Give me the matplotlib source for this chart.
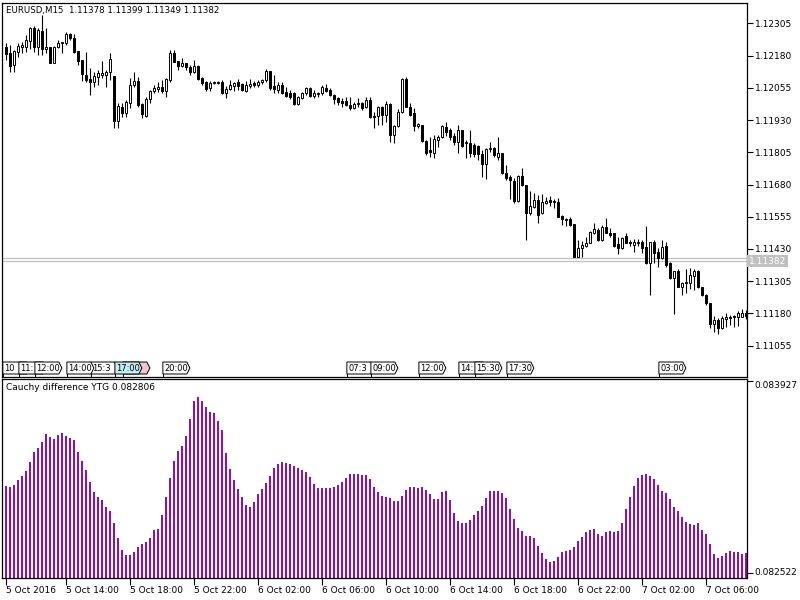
import matplotlib
matplotlib.use("Agg")
import matplotlib.pyplot as plt
from matplotlib.patches import Polygon, Rectangle
from matplotlib.transforms import blended_transform_factory

plt.rcParams['font.family'] = ['DejaVu Sans']

# 标题与报价
symbol_title = "EURUSD,M15  1.11378 1.11399 1.11349 1.11382"
indicator_title = "Cauchy difference YTG 0.082806"
bid = 1.11382
ask = 1.11394

# K线数据 (M15, 5 Oct 10:15 起)
opens = [
    1.12212, 1.12189, 1.12143, 1.12195, 1.12212, 1.12214, 1.12238, 1.12286, 1.12212, 1.12277,
    1.12204, 1.12212, 1.12152, 1.12214, 1.12227, 1.12230, 1.12262, 1.12247, 1.12198, 1.12163,
    1.12105, 1.12089, 1.12079, 1.12098, 1.12105, 1.12105, 1.12118, 1.12101, 1.11928, 1.11982,
    1.11956, 1.11997, 1.12066, 1.12083, 1.11992, 1.11947, 1.12010, 1.12044, 1.12050, 1.12057,
    1.12044, 1.12085, 1.12189, 1.12159, 1.12141, 1.12150, 1.12137, 1.12118, 1.12140, 1.12092,
    1.12079, 1.12053, 1.12079, 1.12075, 1.12079, 1.12034, 1.12049, 1.12062, 1.12076, 1.12068,
    1.12044, 1.12062, 1.12072, 1.12066, 1.12076, 1.12085, 1.12120, 1.12062, 1.12046, 1.12066,
    1.12040, 1.12034, 1.12034, 1.11991, 1.12014, 1.12034, 1.12053, 1.12023, 1.12031, 1.12034,
    1.12053, 1.12046, 1.12027, 1.12014, 1.12005, 1.12005, 1.11988, 1.11975, 1.11997, 1.11995,
    1.11979, 1.12008, 1.11943, 1.11946, 1.11979, 1.11950, 1.11992, 1.11872, 1.11907, 1.11962,
    1.12088, 1.11982, 1.11956, 1.11907, 1.11911, 1.11850, 1.11814, 1.11803, 1.11853, 1.11863,
    1.11904, 1.11891, 1.11868, 1.11846, 1.11891, 1.11840, 1.11842, 1.11833, 1.11829, 1.11798,
    1.11760, 1.11816, 1.11820, 1.11788, 1.11801, 1.11723, 1.11710, 1.11695, 1.11617, 1.11713,
    1.11678, 1.11568, 1.11594, 1.11620, 1.11568, 1.11607, 1.11620, 1.11612, 1.11614, 1.11558,
    1.11542, 1.11545, 1.11527, 1.11400, 1.11433, 1.11442, 1.11455, 1.11493, 1.11504, 1.11465,
    1.11517, 1.11491, 1.11491, 1.11449, 1.11433, 1.11480, 1.11458, 1.11446, 1.11455, 1.11458,
    1.11436, 1.11374, 1.11458, 1.11420, 1.11394, 1.11442, 1.11374, 1.11316, 1.11346, 1.11284,
    1.11297, 1.11299, 1.11325, 1.11346, 1.11281, 1.11252, 1.11219, 1.11139, 1.11155, 1.11122,
    1.11157, 1.11161, 1.11165, 1.11168, 1.11168, 1.11181,
]
highs = [
    1.12227, 1.12221, 1.12202, 1.12227, 1.12234, 1.12260, 1.12292, 1.12295, 1.12286, 1.12337,
    1.12286, 1.12214, 1.12217, 1.12240, 1.12234, 1.12273, 1.12266, 1.12262, 1.12198, 1.12163,
    1.12195, 1.12130, 1.12118, 1.12124, 1.12160, 1.12124, 1.12191, 1.12101, 1.11995, 1.11997,
    1.12008, 1.12092, 1.12118, 1.12098, 1.11995, 1.12018, 1.12046, 1.12066, 1.12079, 1.12085,
    1.12092, 1.12202, 1.12202, 1.12160, 1.12169, 1.12152, 1.12143, 1.12163, 1.12143, 1.12098,
    1.12083, 1.12081, 1.12083, 1.12083, 1.12085, 1.12062, 1.12085, 1.12079, 1.12088, 1.12075,
    1.12083, 1.12088, 1.12083, 1.12085, 1.12088, 1.12127, 1.12120, 1.12105, 1.12079, 1.12079,
    1.12057, 1.12046, 1.12040, 1.12023, 1.12040, 1.12057, 1.12057, 1.12046, 1.12040, 1.12066,
    1.12070, 1.12053, 1.12031, 1.12021, 1.12014, 1.12018, 1.12018, 1.12001, 1.12014, 1.12001,
    1.12018, 1.12021, 1.11962, 1.11984, 1.11984, 1.12005, 1.11997, 1.11911, 1.11971, 1.12092,
    1.12098, 1.11995, 1.11975, 1.11920, 1.11911, 1.11853, 1.11863, 1.11872, 1.11872, 1.11911,
    1.11924, 1.11898, 1.11878, 1.11911, 1.11891, 1.11853, 1.11891, 1.11840, 1.11833, 1.11814,
    1.11820, 1.11846, 1.11824, 1.11863, 1.11801, 1.11756, 1.11717, 1.11704, 1.11717, 1.11743,
    1.11678, 1.11656, 1.11648, 1.11639, 1.11643, 1.11633, 1.11635, 1.11623, 1.11626, 1.11562,
    1.11549, 1.11553, 1.11527, 1.11465, 1.11462, 1.11478, 1.11501, 1.11530, 1.11510, 1.11523,
    1.11549, 1.11510, 1.11493, 1.11478, 1.11478, 1.11493, 1.11465, 1.11467, 1.11467, 1.11465,
    1.11519, 1.11458, 1.11465, 1.11433, 1.11465, 1.11458, 1.11381, 1.11346, 1.11351, 1.11303,
    1.11351, 1.11355, 1.11351, 1.11349, 1.11284, 1.11256, 1.11222, 1.11170, 1.11161, 1.11170,
    1.11181, 1.11174, 1.11174, 1.11191, 1.11196, 1.11194,
]
lows = [
    1.12163, 1.12118, 1.12118, 1.12176, 1.12191, 1.12195, 1.12204, 1.12195, 1.12182, 1.12182,
    1.12189, 1.12152, 1.12152, 1.12208, 1.12189, 1.12221, 1.12240, 1.12191, 1.12143, 1.12083,
    1.12079, 1.12027, 1.12059, 1.12066, 1.12092, 1.12057, 1.12085, 1.11898, 1.11898, 1.11941,
    1.11941, 1.11975, 1.12057, 1.11982, 1.11937, 1.11943, 1.11997, 1.12034, 1.12040, 1.12036,
    1.12021, 1.12079, 1.12154, 1.12124, 1.12137, 1.12124, 1.12105, 1.12111, 1.12085, 1.12066,
    1.12043, 1.12043, 1.12070, 1.12070, 1.12031, 1.12014, 1.12046, 1.12044, 1.12046, 1.12043,
    1.12040, 1.12056, 1.12057, 1.12059, 1.12070, 1.12079, 1.12046, 1.12034, 1.12036, 1.12031,
    1.12021, 1.12010, 1.11988, 1.11988, 1.12010, 1.12027, 1.12021, 1.12014, 1.12018, 1.12027,
    1.12040, 1.12023, 1.11992, 1.11988, 1.11982, 1.11984, 1.11969, 1.11972, 1.11982, 1.11969,
    1.11975, 1.11937, 1.11898, 1.11911, 1.11911, 1.11924, 1.11846, 1.11842, 1.11904, 1.11956,
    1.11979, 1.11946, 1.11889, 1.11898, 1.11846, 1.11794, 1.11788, 1.11782, 1.11824, 1.11859,
    1.11868, 1.11853, 1.11833, 1.11801, 1.11824, 1.11782, 1.11788, 1.11788, 1.11775, 1.11708,
    1.11700, 1.11807, 1.11785, 1.11775, 1.11721, 1.11698, 1.11623, 1.11607, 1.11614, 1.11674,
    1.11465, 1.11562, 1.11588, 1.11530, 1.11566, 1.11604, 1.11597, 1.11588, 1.11553, 1.11523,
    1.11520, 1.11519, 1.11398, 1.11398, 1.11398, 1.11439, 1.11452, 1.11488, 1.11462, 1.11462,
    1.11491, 1.11478, 1.11436, 1.11411, 1.11429, 1.11452, 1.11442, 1.11420, 1.11442, 1.11413,
    1.11372, 1.11252, 1.11374, 1.11359, 1.11390, 1.11362, 1.11312, 1.11178, 1.11281, 1.11252,
    1.11261, 1.11274, 1.11271, 1.11278, 1.11248, 1.11213, 1.11122, 1.11110, 1.11100, 1.11119,
    1.11129, 1.11135, 1.11129, 1.11131, 1.11165, 1.11157,
]
closes = [
    1.12185, 1.12140, 1.12199, 1.12217, 1.12220, 1.12240, 1.12286, 1.12212, 1.12279, 1.12204,
    1.12214, 1.12152, 1.12214, 1.12227, 1.12231, 1.12264, 1.12247, 1.12195, 1.12160, 1.12107,
    1.12085, 1.12079, 1.12101, 1.12114, 1.12114, 1.12116, 1.12165, 1.11928, 1.11984, 1.11956,
    1.12001, 1.12066, 1.12083, 1.11988, 1.11953, 1.12010, 1.12044, 1.12053, 1.12057, 1.12044,
    1.12088, 1.12189, 1.12156, 1.12141, 1.12152, 1.12134, 1.12118, 1.12140, 1.12088, 1.12075,
    1.12049, 1.12075, 1.12075, 1.12079, 1.12034, 1.12052, 1.12065, 1.12075, 1.12062, 1.12046,
    1.12066, 1.12070, 1.12066, 1.12076, 1.12085, 1.12120, 1.12053, 1.12049, 1.12066, 1.12036,
    1.12023, 1.12021, 1.11992, 1.12018, 1.12034, 1.12053, 1.12023, 1.12036, 1.12036, 1.12059,
    1.12044, 1.12027, 1.12010, 1.12001, 1.11997, 1.11988, 1.11975, 1.11992, 1.11991, 1.11975,
    1.12008, 1.11943, 1.11946, 1.11979, 1.11950, 1.11992, 1.11872, 1.11907, 1.11962, 1.12088,
    1.11982, 1.11950, 1.11907, 1.11915, 1.11850, 1.11803, 1.11807, 1.11855, 1.11863, 1.11907,
    1.11885, 1.11866, 1.11846, 1.11891, 1.11829, 1.11846, 1.11801, 1.11798, 1.11798, 1.11760,
    1.11816, 1.11820, 1.11794, 1.11801, 1.11723, 1.11704, 1.11698, 1.11617, 1.11713, 1.11678,
    1.11568, 1.11598, 1.11620, 1.11562, 1.11614, 1.11616, 1.11614, 1.11616, 1.11555, 1.11545,
    1.11545, 1.11523, 1.11400, 1.11433, 1.11446, 1.11455, 1.11497, 1.11506, 1.11465, 1.11517,
    1.11493, 1.11484, 1.11442, 1.11433, 1.11471, 1.11455, 1.11452, 1.11458, 1.11458, 1.11433,
    1.11374, 1.11458, 1.11416, 1.11394, 1.11439, 1.11368, 1.11316, 1.11346, 1.11284, 1.11299,
    1.11303, 1.11329, 1.11346, 1.11281, 1.11252, 1.11219, 1.11139, 1.11155, 1.11122, 1.11161,
    1.11165, 1.11168, 1.11170, 1.11183, 1.11183, 1.11170,
]

# 指标数据 Cauchy difference YTG
cauchy = [
    0.083159, 0.083154, 0.083166, 0.083203, 0.083232, 0.083268, 0.083336, 0.083410, 0.083439, 0.083481,
    0.083539, 0.083519, 0.083503, 0.083532, 0.083544, 0.083525, 0.083512, 0.083495, 0.083410, 0.083342,
    0.083276, 0.083186, 0.083115, 0.083076, 0.083056, 0.083007, 0.082976, 0.082886, 0.082780, 0.082690,
    0.082654, 0.082654, 0.082676, 0.082712, 0.082734, 0.082749, 0.082778, 0.082837, 0.082844, 0.082946,
    0.083078, 0.083217, 0.083342, 0.083415, 0.083451, 0.083525, 0.083649, 0.083783, 0.083808, 0.083783,
    0.083739, 0.083698, 0.083691, 0.083634, 0.083568, 0.083400, 0.083283, 0.083203, 0.083137, 0.083078,
    0.083020, 0.083005, 0.083042, 0.083100, 0.083137, 0.083178, 0.083232, 0.083288, 0.083317, 0.083334,
    0.083327, 0.083320, 0.083305, 0.083290, 0.083276, 0.083261, 0.083222, 0.083173, 0.083144, 0.083144,
    0.083144, 0.083144, 0.083154, 0.083166, 0.083188, 0.083217, 0.083244, 0.083244, 0.083244, 0.083237,
    0.083237, 0.083210, 0.083151, 0.083112, 0.083085, 0.083078, 0.083071, 0.083049, 0.083049, 0.083085,
    0.083129, 0.083151, 0.083151, 0.083144, 0.083151, 0.083129, 0.083100, 0.083063, 0.083063, 0.083115,
    0.083122, 0.083056, 0.082961, 0.082902, 0.082888, 0.082888, 0.082910, 0.082946, 0.082976, 0.083012,
    0.083071, 0.083122, 0.083122, 0.083122, 0.083107, 0.083071, 0.082990, 0.082917, 0.082851, 0.082829,
    0.082795, 0.082795, 0.082778, 0.082722, 0.082666, 0.082624, 0.082602, 0.082612, 0.082641, 0.082673,
    0.082683, 0.082690, 0.082714, 0.082756, 0.082788, 0.082822, 0.082837, 0.082844, 0.082807, 0.082795,
    0.082822, 0.082829, 0.082822, 0.082829, 0.082888, 0.082990, 0.083078, 0.083159, 0.083217, 0.083239,
    0.083246, 0.083232, 0.083210, 0.083166, 0.083122, 0.083107, 0.083063, 0.083005, 0.082976, 0.082932,
    0.082895, 0.082881, 0.082873, 0.082888, 0.082837, 0.082807, 0.082736, 0.082659, 0.082630, 0.082649,
    0.082666, 0.082685, 0.082678, 0.082678, 0.082659, 0.082666,
]

# 坐标轴刻度
price_ticks = [1.11055, 1.11180, 1.11305, 1.11430, 1.11555, 1.11680,
               1.11805, 1.11930, 1.12055, 1.12180, 1.12305]
ind_ticks = [0.082522, 0.083927]
time_ticks = [0, 15, 31, 47, 63, 79, 95, 111, 127, 143, 159, 175]
time_labels = ["5 Oct 2016", "5 Oct 14:00", "5 Oct 18:00", "5 Oct 22:00",
               "6 Oct 02:00", "6 Oct 06:00", "6 Oct 10:00", "6 Oct 14:00",
               "6 Oct 18:00", "6 Oct 22:00", "7 Oct 02:00", "7 Oct 06:00"]

# 事件标签 (绘制顺序即叠放顺序, 文字为图中可见部分)
event_bars = [-1, 3, 7, 21, 15, 29, 27, 39, 85, 91, 103, 113, 117, 125, 163]
event_labels = ["10", "11:", "12:00", "15:3", "14:00", "", "17:00",
                "20:00", "07:3", "09:00", "12:00", "14:", "15:30", "17:30", "03:00"]
event_colors = ["white", "white", "white", "white", "white", "#f4c4cc", "#c4eef0",
                "white", "white", "white", "white", "white", "white", "white", "white"]

# 创建图形
fig = plt.figure(figsize=(8, 6), dpi=100)
ax = fig.add_axes([0.003, 0.37117, 0.9306, 0.62433])
ax2 = fig.add_axes([0.003, 0.03667, 0.9306, 0.33117])

n = len(closes)
xs = list(range(n))

# 绘制K线
ax.vlines(xs, lows, highs, color='black', lw=0.8, zorder=2)
for i in range(n):
    o, c = opens[i], closes[i]
    fc = 'black' if c < o else 'white'
    ax.add_patch(Rectangle((i - 0.25, min(o, c)), 0.5, abs(c - o),
                           facecolor=fc, edgecolor='black', lw=0.7, zorder=3))

ax.axhline(ask, color='#c0c0c0', lw=0.9, zorder=1)
ax.axhline(bid, color='#c0c0c0', lw=0.9, zorder=1)

ax.set_xlim(-0.79, 185.33)
ax.set_ylim(1.109325, 1.123849)
ax.set_xticks([])
ax.yaxis.tick_right()
ax.set_yticks(price_ticks)
ax.set_yticklabels(["%.5f" % p for p in price_ticks])
ax.tick_params(axis='y', length=4, width=0.8, labelsize=6.5, pad=1.5)
for s in ax.spines.values():
    s.set_linewidth(0.9)

ax.text(0.005, 0.99, symbol_title, transform=ax.transAxes, fontsize=6.2,
        ha='left', va='top')

trans_y = blended_transform_factory(ax.transAxes, ax.transData)
ax.text(1.003, bid, "%.5f" % bid, transform=trans_y, fontsize=6.5, color='white',
        ha='left', va='center', clip_on=False,
        bbox=dict(facecolor='#c0c0c0', edgecolor='none', pad=1.2))

# 事件标签框
trans_e = blended_transform_factory(ax.transData, ax.transAxes)
y0, y1 = 0.0088, 0.0408
for j, (b, lab, col) in enumerate(zip(event_bars, event_labels, event_colors)):
    x0 = b + 0.33
    w = 6.0
    pts = [(x0, y0), (x0 + w, y0), (x0 + w + 0.75, (y0 + y1) / 2), (x0 + w, y1), (x0, y1)]
    poly = Polygon(pts, closed=True, facecolor=col, edgecolor='black', lw=0.7,
                   transform=trans_e, zorder=10 + 2 * j)
    ax.add_patch(poly)
    ax.plot([x0, x0], [0, y0], color='black', lw=0.7, transform=trans_e,
            zorder=10 + 2 * j)
    if lab:
        ax.text(x0 + 0.3, (y0 + y1) / 2, lab, transform=trans_e, fontsize=6,
                ha='left', va='center', zorder=11 + 2 * j)

# 指标柱状图
ax2.bar(xs, cauchy, width=0.5, color='#8a10b2', zorder=2)
ax2.set_xlim(-0.79, 185.33)
ax2.set_ylim(0.082485, 0.083939)
ax2.yaxis.tick_right()
ax2.set_yticks(ind_ticks)
ax2.set_yticklabels(["%.6f" % v for v in ind_ticks])
ax2.tick_params(axis='y', length=4, width=0.8, labelsize=6.5, pad=1.5)
ylabels = ax2.get_yticklabels()
ylabels[0].set_va('center')
ylabels[1].set_va('top')
ax2.set_xticks(time_ticks)
ax2.set_xticklabels(time_labels)
ax2.tick_params(axis='x', length=5, width=0.8, labelsize=6.5, pad=1)
for lbl in ax2.get_xticklabels():
    lbl.set_ha('left')
for s in ax2.spines.values():
    s.set_linewidth(0.9)

ax2.text(0.005, 0.98, indicator_title, transform=ax2.transAxes, fontsize=6.5,
         ha='left', va='top')

fig.savefig('out.png', dpi=100)
